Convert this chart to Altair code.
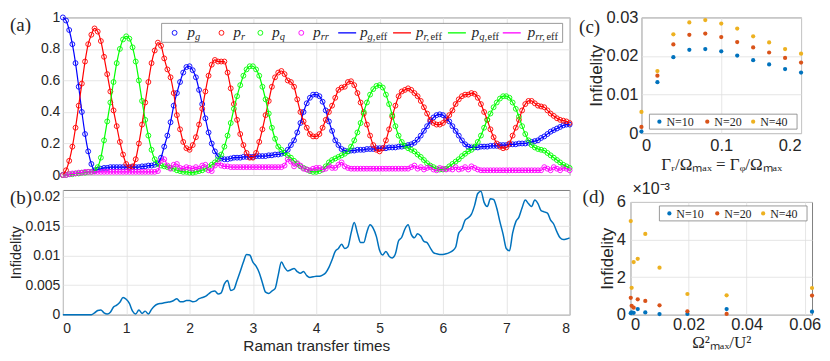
import altair as alt
import pandas as pd

# ---------------- data ----------------
# sampling grid of panels (a) and (b): Raman transfer times, every 0.05
t = [round(0.05 * i, 2) for i in range(161)]

p_g = [1.0, 0.98, 0.92, 0.83, 0.71, 0.56, 0.40, 0.26, 0.15, 0.07, 0.03, 0.035, 0.04, 0.045, 0.045, 0.05, 0.05, 0.05, 0.05, 0.05,
       0.05, 0.05, 0.05, 0.05, 0.05, 0.055, 0.055, 0.06, 0.06, 0.065, 0.075, 0.11, 0.18, 0.25, 0.335, 0.44, 0.52, 0.59, 0.65, 0.685,
       0.69, 0.665, 0.62, 0.54, 0.45, 0.36, 0.27, 0.20, 0.15, 0.12, 0.105, 0.10, 0.10, 0.105, 0.11, 0.11, 0.11, 0.115, 0.115, 0.115,
       0.115, 0.12, 0.12, 0.12, 0.12, 0.125, 0.125, 0.13, 0.13, 0.135, 0.14, 0.16, 0.19, 0.22, 0.27, 0.33, 0.40, 0.455, 0.49, 0.51,
       0.51, 0.50, 0.465, 0.41, 0.34, 0.28, 0.22, 0.19, 0.165, 0.155, 0.15, 0.155, 0.155, 0.16, 0.16, 0.16, 0.165, 0.165, 0.165, 0.17,
       0.17, 0.17, 0.17, 0.175, 0.175, 0.175, 0.18, 0.18, 0.185, 0.19, 0.195, 0.205, 0.225, 0.25, 0.28, 0.31, 0.34, 0.365, 0.38, 0.385,
       0.38, 0.36, 0.34, 0.31, 0.28, 0.25, 0.22, 0.195, 0.18, 0.175, 0.175, 0.175, 0.18, 0.18, 0.18, 0.185, 0.185, 0.185, 0.19, 0.19,
       0.19, 0.195, 0.195, 0.195, 0.2, 0.2, 0.2, 0.205, 0.21, 0.215, 0.22, 0.235, 0.245, 0.26, 0.275, 0.285, 0.295, 0.305, 0.315, 0.32, 0.32]

p_r = [0.0, 0.03, 0.09, 0.18, 0.30, 0.44, 0.58, 0.72, 0.83, 0.89, 0.93, 0.91, 0.85, 0.75, 0.64, 0.53, 0.41, 0.31, 0.21, 0.13,
       0.07, 0.045, 0.055, 0.10, 0.20, 0.32, 0.46, 0.59, 0.71, 0.79, 0.84, 0.82, 0.74, 0.67, 0.62, 0.52, 0.38, 0.29, 0.21, 0.17,
       0.16, 0.19, 0.24, 0.32, 0.42, 0.53, 0.63, 0.70, 0.73, 0.72, 0.72, 0.72, 0.65, 0.55, 0.45, 0.35, 0.26, 0.19, 0.14, 0.11,
       0.11, 0.14, 0.21, 0.29, 0.38, 0.47, 0.56, 0.62, 0.65, 0.66, 0.64, 0.60, 0.59, 0.56, 0.48, 0.40, 0.34, 0.30, 0.26, 0.245,
       0.245, 0.26, 0.30, 0.35, 0.40, 0.44, 0.49, 0.54, 0.555, 0.56, 0.59, 0.595, 0.57, 0.52, 0.46, 0.39, 0.32, 0.25, 0.19, 0.16,
       0.15, 0.17, 0.22, 0.29, 0.37, 0.44, 0.50, 0.53, 0.54, 0.55, 0.54, 0.52, 0.50, 0.47, 0.43, 0.39, 0.35, 0.33, 0.32, 0.32,
       0.33, 0.35, 0.38, 0.41, 0.45, 0.48, 0.50, 0.51, 0.51, 0.52, 0.515, 0.49, 0.45, 0.40, 0.35, 0.29, 0.24, 0.20, 0.18, 0.17,
       0.175, 0.20, 0.25, 0.30, 0.35, 0.41, 0.45, 0.47, 0.47, 0.455, 0.44, 0.435, 0.43, 0.41, 0.39, 0.375, 0.36, 0.35, 0.345, 0.34, 0.33]

p_q = [0.0, 0.0, 0.005, 0.005, 0.01, 0.01, 0.015, 0.015, 0.02, 0.02, 0.025, 0.05, 0.11, 0.22, 0.34, 0.46, 0.59, 0.71, 0.80, 0.86,
       0.88, 0.865, 0.81, 0.72, 0.60, 0.47, 0.35, 0.25, 0.16, 0.10, 0.07, 0.06, 0.055, 0.05, 0.045, 0.04, 0.03, 0.025, 0.02, 0.02,
       0.015, 0.015, 0.02, 0.025, 0.03, 0.04, 0.05, 0.065, 0.08, 0.10, 0.13, 0.18, 0.25, 0.33, 0.42, 0.50, 0.57, 0.63, 0.67, 0.69,
       0.69, 0.67, 0.63, 0.56, 0.48, 0.39, 0.30, 0.23, 0.18, 0.16, 0.14, 0.125, 0.11, 0.09, 0.07, 0.055, 0.045, 0.035, 0.025, 0.02,
       0.02, 0.025, 0.035, 0.055, 0.08, 0.095, 0.105, 0.115, 0.125, 0.135, 0.15, 0.18, 0.22, 0.27, 0.33, 0.40, 0.46, 0.51, 0.545, 0.565,
       0.57, 0.555, 0.51, 0.45, 0.38, 0.31, 0.25, 0.21, 0.185, 0.17, 0.16, 0.15, 0.13, 0.115, 0.095, 0.075, 0.06, 0.05, 0.04, 0.035,
       0.035, 0.04, 0.055, 0.07, 0.085, 0.10, 0.12, 0.135, 0.15, 0.16, 0.18, 0.21, 0.25, 0.30, 0.35, 0.39, 0.43, 0.46, 0.485, 0.50,
       0.50, 0.49, 0.46, 0.42, 0.37, 0.31, 0.26, 0.22, 0.19, 0.175, 0.165, 0.16, 0.155, 0.14, 0.125, 0.11, 0.095, 0.08, 0.065, 0.055, 0.045]

p_rr = [0.0, 0.0, 0.005, 0.01, 0.01, 0.015, 0.015, 0.02, 0.02, 0.02, 0.02, 0.02, 0.02, 0.02, 0.02, 0.02, 0.02, 0.02, 0.02, 0.02,
        0.02, 0.02, 0.02, 0.02, 0.02, 0.02, 0.02, 0.02, 0.02, 0.02, 0.025, 0.09, 0.10, 0.06, 0.04, 0.065, 0.07, 0.045, 0.04, 0.05,
        0.045, 0.04, 0.05, 0.04, 0.06, 0.065, 0.03, 0.025, 0.06, 0.075, 0.06, 0.055, 0.055, 0.05, 0.05, 0.05, 0.05, 0.05, 0.05, 0.05,
        0.05, 0.05, 0.05, 0.05, 0.05, 0.05, 0.05, 0.05, 0.05, 0.05, 0.06, 0.10, 0.085, 0.055, 0.075, 0.06, 0.04, 0.035, 0.03, 0.04,
        0.045, 0.045, 0.035, 0.04, 0.06, 0.045, 0.045, 0.065, 0.08, 0.055, 0.045, 0.04, 0.04, 0.04, 0.04, 0.04, 0.04, 0.04, 0.04, 0.04,
        0.04, 0.04, 0.04, 0.04, 0.04, 0.04, 0.04, 0.04, 0.04, 0.04, 0.05, 0.06, 0.04, 0.05, 0.035, 0.045, 0.05, 0.035, 0.03, 0.045,
        0.04, 0.035, 0.04, 0.035, 0.05, 0.035, 0.04, 0.05, 0.035, 0.055, 0.045, 0.035, 0.03, 0.03, 0.03, 0.03, 0.03, 0.03, 0.03, 0.03,
        0.03, 0.03, 0.03, 0.03, 0.03, 0.03, 0.03, 0.03, 0.03, 0.03, 0.03, 0.03, 0.05, 0.04, 0.03, 0.05, 0.04, 0.03, 0.045, 0.04, 0.03]

infid_b = [0, 0, 0, 0, 0, 0, 0, 0, 0, 0, 0.0003, 0.0007, 0.0008, 0.0003, 0.0001, 0.0004, 0.0013, 0.0016, 0.0021, 0.0029,
           0.0026, 0.0019, 0.0006, 0.0001, 0.0008, 0.0002, 0.0006, 0.0001, 0.0009, 0.0015, 0.0018, 0.0019, 0.002, 0.0021, 0.0022, 0.0024, 0.0027, 0.0022, 0.0022, 0.0024,
           0.0024, 0.0022, 0.0023, 0.0027, 0.0029, 0.0031, 0.0035, 0.0039, 0.004, 0.0035, 0.0037, 0.0052, 0.0058, 0.0041, 0.0043, 0.0058, 0.0073, 0.0089, 0.0102, 0.0101,
           0.0089, 0.0082, 0.0071, 0.0054, 0.0038, 0.0036, 0.004, 0.0044, 0.0067, 0.0089, 0.008, 0.0074, 0.0076, 0.0078, 0.0073, 0.007, 0.0073, 0.0066, 0.0063, 0.0064,
           0.0065, 0.0065, 0.0067, 0.0071, 0.008, 0.0093, 0.0107, 0.0112, 0.0119, 0.0112, 0.0115, 0.0138, 0.0156, 0.0138, 0.0122, 0.0122, 0.014, 0.0152, 0.0146, 0.0132,
           0.0109, 0.0101, 0.0107, 0.0099, 0.0096, 0.0103, 0.0125, 0.0131, 0.0145, 0.0152, 0.0136, 0.013, 0.0137, 0.0133, 0.0124, 0.0122, 0.0113, 0.0105, 0.0103, 0.0102,
           0.0102, 0.0103, 0.0105, 0.0108, 0.0114, 0.0138, 0.0145, 0.016, 0.0164, 0.017, 0.0185, 0.0205, 0.0209, 0.019, 0.0183, 0.0196, 0.0195, 0.018, 0.0157, 0.0136,
           0.0112, 0.0108, 0.0138, 0.0157, 0.0165, 0.0181, 0.0194, 0.0188, 0.0183, 0.0194, 0.0188, 0.0176, 0.0174, 0.0172, 0.016, 0.0153, 0.014, 0.013, 0.0127, 0.0128, 0.013]

# panel (c)
gamma_c = [0.0, 0.02, 0.04, 0.06, 0.08, 0.10, 0.12, 0.14, 0.16, 0.18, 0.20]
c_N10 = [0.0004, 0.0132, 0.0197, 0.0216, 0.0218, 0.0212, 0.0201, 0.0189, 0.0178, 0.0166, 0.0157]
c_N20 = [0.0016, 0.0149, 0.0230, 0.0255, 0.0258, 0.0249, 0.0236, 0.0222, 0.0209, 0.0195, 0.0183]
c_N40 = [0.0055, 0.0161, 0.0256, 0.0287, 0.0293, 0.0284, 0.0271, 0.0251, 0.0235, 0.0218, 0.0206]

# panel (d): infidelity in units of 1e-3
x_d = [0.0001, 0.0004, 0.0011, 0.0025, 0.0051, 0.0100, 0.0196, 0.0331, 0.0625]
d_N10 = [0.08, 0.12, 0.10, 0.30, 0.12, 0.03, 0.04, 0.30, 0.16]
d_N20 = [0.90, 0.47, 0.37, 0.82, 0.73, 0.50, 0.18, 0.04, 1.02]
d_N40 = [4.98, 1.43, 2.80, 2.97, 4.30, 2.50, 1.10, 1.03, 1.42]

names_a = ["p_g", "p_r", "p_q", "p_rr"]
names_n = ["N=10", "N=20", "N=40"]

# ---------------- styles ----------------
FONT = "Liberation Sans"
SERIF = "Liberation Serif"
TXT = "#262626"
FRAME = "#808080"
cols_a = ["#0000ff", "#ff0000", "#00ff00", "#ff00ff"]
cols_n = ["#0072BD", "#D95319", "#EDB120"]

WA, HA, HB = 508, 158, 125
WC, HC = 160, 116
WD, HD = 182, 113

one = pd.DataFrame({"k": [0]})


def txt(s, x, y, size, font=SERIF, style="normal", align="left", baseline="middle"):
    return alt.Chart(one).mark_text(text=s, font=font, fontSize=size, fontStyle=style,
                                    align=align, baseline=baseline, color=TXT).encode(
        x=alt.value(x), y=alt.value(y))


def box(x1, x2, y1, y2):
    return alt.Chart(one).mark_rect(fill="white", stroke=FRAME, strokeWidth=0.8).encode(
        x=alt.value(x1), x2=alt.value(x2), y=alt.value(y1), y2=alt.value(y2))


def n_legend(x0, y0):
    """MATLAB-like boxed legend for N=10/20/40 (x0, y0: box top-left in panel pixels)."""
    layers = [box(x0, x0 + 148, y0, y0 + 15)]
    for i, off in enumerate([10, 58, 104]):
        layers.append(alt.Chart(one).mark_circle(size=18, opacity=1, color=cols_n[i]).encode(
            x=alt.value(x0 + off), y=alt.value(y0 + 7.5)))
        layers.append(txt(names_n[i], x0 + off + 7, y0 + 8, 12))
    return layers


# ---------------- panel (a) ----------------
df_a = pd.concat([pd.DataFrame({"t": t, "p": v, "s": n})
                  for n, v in zip(names_a, [p_g, p_r, p_q, p_rr])], ignore_index=True)

xa = alt.X("t:Q", scale=alt.Scale(domain=[0, 8], nice=False, zero=False),
           axis=alt.Axis(values=list(range(9)), labels=False, title=None))
ya = alt.Y("p:Q", scale=alt.Scale(domain=[0, 1], nice=False),
           axis=alt.Axis(values=[0, 0.2, 0.4, 0.6, 0.8, 1], format="~g", title=None,
                         labelPadding=3, labelFontSize=14))
ca = alt.Color("s:N", scale=alt.Scale(domain=names_a, range=cols_a), legend=None)

a_pts = alt.Chart(df_a).mark_point(shape="circle", filled=False, size=24, strokeWidth=0.9,
                                   opacity=1).encode(x=xa, y=ya, color=ca)
a_lines = alt.Chart(df_a).mark_line(strokeWidth=1.2, interpolate="monotone").encode(
    x=xa, y=ya, color=ca)

a_layers = [a_pts, a_lines, box(99, 501, 6, 25)]
# legend of panel (a)
mk_x = [112, 159, 198, 239]
ln_x = [(276, 294), (331, 349), (386, 404), (441, 459)]
p_x = [125, 171, 210, 251, 298, 354, 410, 466]
subs = ["g", "r", "q", "rr", "g,", "r,", "q,", "rr,"]
sub_w = {"g,": 8.3, "r,": 7.0, "q,": 8.3, "rr,": 11.3}
for i in range(4):
    a_layers.append(alt.Chart(one).mark_point(shape="circle", filled=False, size=24, strokeWidth=0.9,
                                              color=cols_a[i], opacity=1).encode(
        x=alt.value(mk_x[i]), y=alt.value(15.5)))
    a_layers.append(alt.Chart(one).mark_rule(color=cols_a[i], strokeWidth=1.3).encode(
        x=alt.value(ln_x[i][0]), x2=alt.value(ln_x[i][1]), y=alt.value(15.5)))
for i in range(8):
    a_layers.append(txt("p", p_x[i], 19.5, 15, style="italic", baseline="alphabetic"))
    a_layers.append(txt(subs[i], p_x[i] + 7.5, 22.5, 10.5, style="italic", baseline="alphabetic"))
    if i >= 4:
        a_layers.append(txt("eff", p_x[i] + 7.5 + sub_w[subs[i]], 22.5, 10.5, baseline="alphabetic"))
a_layers.append(txt("(a)", -53, 8, 19))
panel_a = alt.layer(*a_layers).properties(width=WA, height=HA)

# ---------------- panel (b) ----------------
df_b = pd.DataFrame({"t": t, "inf": infid_b})
xb = alt.X("t:Q", scale=alt.Scale(domain=[0, 8], nice=False, zero=False),
           axis=alt.Axis(values=list(range(9)), title="Raman transfer times", labelFontSize=14,
                         titleFontSize=15.4, labelPadding=7, titlePadding=3))
yb = alt.Y("inf:Q", scale=alt.Scale(domain=[0, 0.0211], nice=False),
           axis=alt.Axis(values=[0, 0.005, 0.01, 0.015, 0.02], format="~g", title="Infidelity",
                         labelFontSize=14, titleFontSize=14.5, labelPadding=3, titlePadding=1))
b_line = alt.Chart(df_b).mark_line(color="#0072BD", strokeWidth=1.5, interpolate="monotone").encode(x=xb, y=yb)
panel_b = alt.layer(b_line, txt("(b)", -53, 8, 19)).properties(width=WA, height=HB)

# ---------------- panel (c) ----------------
df_c = pd.concat([pd.DataFrame({"g": gamma_c, "inf": v, "N": n})
                  for n, v in zip(names_n, [c_N10, c_N20, c_N40])], ignore_index=True)
c_pts = alt.Chart(df_c).mark_circle(size=18, opacity=1).encode(
    x=alt.X("g:Q", scale=alt.Scale(domain=[0, 0.2], nice=False),
            axis=alt.Axis(values=[0, 0.1, 0.2], format="~g", title="Γᵣ/Ωₘₐₓ = Γᵩ/Ωₘₐₓ",
                          titleFont=SERIF, titleFontSize=17, labelFontSize=16.5,
                          labelPadding=4, titlePadding=3)),
    y=alt.Y("inf:Q", scale=alt.Scale(domain=[0, 0.03], nice=False),
            axis=alt.Axis(values=[0, 0.01, 0.02, 0.03], format="~g", title="Infidelity",
                          labelFontSize=16.5, titleFontSize=17, labelPadding=3.5, titlePadding=0)),
    color=alt.Color("N:N", scale=alt.Scale(domain=names_n, range=cols_n), legend=None))
panel_c = alt.layer(c_pts, *n_legend(8, HC - 19), txt("(c)", -62.5, 10, 19)).properties(width=WC, height=HC)

# ---------------- panel (d) ----------------
df_d = pd.concat([pd.DataFrame({"u": x_d, "inf": v, "N": n})
                  for n, v in zip(names_n, [d_N10, d_N20, d_N40])], ignore_index=True)
d_pts = alt.Chart(df_d).mark_circle(size=18, opacity=1).encode(
    x=alt.X("u:Q", scale=alt.Scale(domain=[0, 0.0625], nice=False),
            axis=alt.Axis(values=[0, 0.02, 0.04, 0.06], format="~g", title="Ω²ₘₐₓ/U²",
                          titleFont=SERIF, titleFontSize=17, labelFontSize=16.5,
                          labelPadding=2, titlePadding=1)),
    y=alt.Y("inf:Q", scale=alt.Scale(domain=[0, 6], nice=False),
            axis=alt.Axis(values=[0, 2, 4, 6], format="~g", title="Infidelity",
                          labelFontSize=16.5, titleFontSize=17, labelPadding=5, titlePadding=0)),
    color=alt.Color("N:N", scale=alt.Scale(domain=names_n, range=cols_n), legend=None))
panel_d = alt.layer(d_pts, *n_legend(WD - 153, 4), txt("(d)", -48, -5, 19),
                    txt("×10⁻³", 2, -13, 16, font=FONT)).properties(width=WD, height=HD)

# ---------------- layout ----------------
left = alt.vconcat(panel_a, panel_b, spacing=15, bounds="flush").resolve_scale(color="independent")
right = alt.vconcat(panel_c, panel_d, spacing=69, bounds="flush", center=True).resolve_scale(color="independent")
chart = alt.hconcat(left, right, spacing=4).resolve_scale(color="independent").properties(padding=0).configure_axis(
    labelFont=FONT, titleFont=FONT, labelColor=TXT, titleColor=TXT, gridColor="#e0e0e0",
    gridWidth=0.8, domain=False, ticks=False, titleFontWeight="normal"
).configure_view(stroke=FRAME, strokeWidth=1)

chart.save("out.html", embed_options={"renderer": "svg", "actions": False})
